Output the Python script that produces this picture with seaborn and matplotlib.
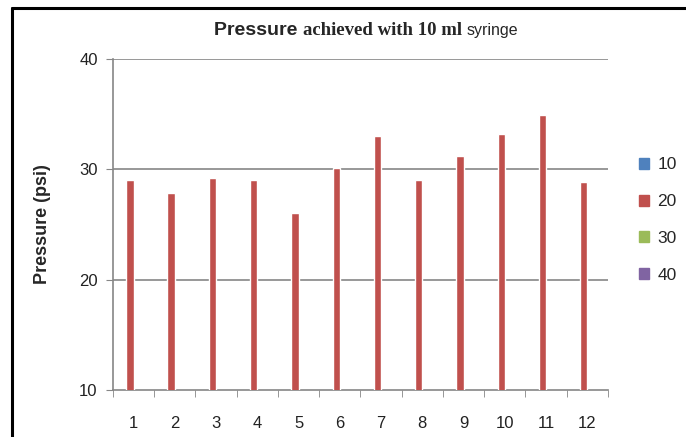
import matplotlib
matplotlib.use('Agg')
import matplotlib.pyplot as plt
import seaborn as sns
import numpy as np
import pandas as pd

# Dados
trials = ['1', '2', '3', '4', '5', '6', '7', '8', '9', '10', '11', '12']
series = ['10', '20', '30', '40']
pressure_20 = [29.0, 27.85, 29.2, 29.0, 26.0, 30.1, 33.05, 29.0, 31.2, 33.2, 34.95, 28.85]
# as séries 10, 30 e 40 não têm valores no gráfico
pressure_empty = [np.nan] * len(trials)

colors = ['#4F81BD', '#C0504D', '#9BBB59', '#8064A2']

rows = []
for s in series:
    vals = pressure_20 if s == '20' else pressure_empty
    for t, v in zip(trials, vals):
        rows.append({'trial': t, 'series': s, 'pressure': v})
df = pd.DataFrame(rows)

sns.set_style('white')
fig = plt.figure(figsize=(6.86, 4.37), dpi=100)
ax = fig.add_axes([0.1647, 0.1076, 0.7216, 0.7574])

sns.barplot(data=df, x='trial', y='pressure', hue='series', order=trials,
            hue_order=series, palette=colors, width=1 / 1.4, gap=0,
            errorbar=None, saturation=1, legend=False, ax=ax, zorder=3)

grid_color = '#868686'
ax.set_ylim(10, 40)
ax.set_xlim(-0.5, len(trials) - 0.5)
ax.set_yticks([10, 20, 30, 40])
for y in [20, 30, 40]:
    ax.axhline(y, color=grid_color, lw=1.2, zorder=1)

for side in ['top', 'right']:
    ax.spines[side].set_visible(False)
for side in ['left', 'bottom']:
    ax.spines[side].set_color(grid_color)
    ax.spines[side].set_linewidth(1.2)

ax.set_xlabel('')
ax.set_ylabel('Pressure (psi)', fontsize=13, fontweight='bold',
              family=['Liberation Sans', 'DejaVu Sans'], labelpad=20)
ax.tick_params(axis='y', which='major', length=5, color=grid_color,
               labelsize=12, pad=6, direction='out', left=True)
ax.tick_params(axis='x', which='major', length=0, labelsize=12, pad=19)
ax.set_xticks(np.arange(-0.5, len(trials), 1), minor=True)
ax.tick_params(axis='x', which='minor', length=5, color=grid_color,
               direction='out', bottom=True)
for lab in ax.get_xticklabels() + ax.get_yticklabels():
    lab.set_family(['Liberation Sans', 'DejaVu Sans'])
    lab.set_color('#222222')

# legenda
handles = [plt.Rectangle((0, 0), 1, 1, color=c) for c in colors]
fig.legend(handles, series, loc='center left',
           bbox_to_anchor=(639 / 686, (437 - 220) / 437), frameon=False,
           handlelength=0.6, handleheight=0.6, handletextpad=0.45,
           labelspacing=1.25, borderpad=0, borderaxespad=0,
           prop={'family': ['Liberation Sans', 'DejaVu Sans'], 'size': 12.5})

# título com fontes misturadas
pieces = [('Pressure ', 'Liberation Sans', 'bold', 14),
          ('achieved with 10 ml ', 'Liberation Serif', 'bold', 13.5),
          ('syringe', 'Liberation Sans', 'normal', 11.5)]
fig.canvas.draw()
renderer = fig.canvas.get_renderer()
texts = []
for s, fam, wt, sz in pieces:
    t = fig.text(0, 1 - 35 / 437, s, family=fam, fontweight=wt, fontsize=sz,
                 ha='left', va='baseline')
    texts.append(t)
widths = [t.get_window_extent(renderer).width for t in texts]
x0 = 366 - sum(widths) / 2
for t, w in zip(texts, widths):
    t.set_x(x0 / 686)
    x0 += w

# moldura preta (superior e esquerda)
fig.add_artist(plt.Line2D([12 / 686, 1], [1 - 8 / 437, 1 - 8 / 437],
                          color='black', lw=2.2, transform=fig.transFigure))
fig.add_artist(plt.Line2D([12 / 686, 12 / 686], [0, 1 - 8 / 437],
                          color='black', lw=2.2, transform=fig.transFigure))

fig.savefig('out.png', dpi=100)
